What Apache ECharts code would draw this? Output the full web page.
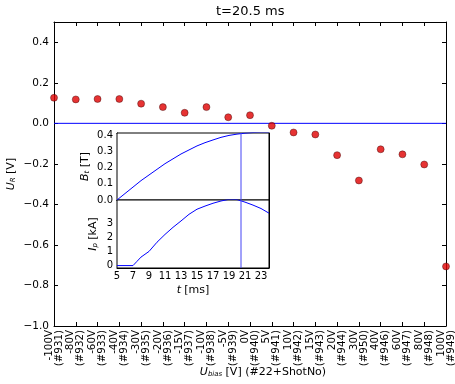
<!DOCTYPE html>
<html><head><meta charset="utf-8">
<script src="https://cdn.jsdelivr.net/npm/echarts@6/dist/echarts.min.js"></script>
<style>html,body{margin:0;padding:0;background:#fff}#c{width:455px;height:384px}</style>
</head><body><div id="c"></div>
<script>
// ---- data ----
const biasLabels = ['-100V','-80V','-60V','-40V','-30V','-20V','-15V','-10V','-5V','0V','5V','10V','15V','20V','30V','40V','60V','80V','100V'];
const shotLabels = ['#931','#932','#933','#934','#935','#936','#937','#938','#939','#940','#941','#942','#943','#944','#950','#946','#947','#948','#949'];
const URvalues = [0.126,0.118,0.120,0.120,0.097,0.080,0.052,0.080,0.030,0.040,-0.012,-0.045,-0.055,-0.157,-0.282,-0.128,-0.153,-0.203,-0.706];
const mainYTicks = [-1.0,-0.8,-0.6,-0.4,-0.2,0.0,0.2,0.4];
const tBt = [5,6,7,8,9,10,11,12,13,14,15,16,17,18,19,20,21,22,23,24];
const BtValues = [0,0.040,0.080,0.120,0.155,0.190,0.225,0.255,0.285,0.310,0.335,0.355,0.372,0.388,0.400,0.408,0.414,0.418,0.420,0.420];
const tIp = [5,6,7,7.5,8,8.5,9,10,11,12,13,14,15,16,17,18,19,20,21,22,23,24];
const IpValues = [0,0,0,0.30,0.60,0.80,1.00,1.65,2.20,2.70,3.15,3.62,3.98,4.20,4.40,4.56,4.68,4.66,4.48,4.27,4.03,3.70];
const insetXTicks = [5,7,9,11,13,15,17,19,21,23];
const BtTicks = [0,0.1,0.2,0.3,0.4];
const IpTickMarks = [0,1,2,3,4];
const IpTickLabels = [0,1,2,3];
const tMarker = 20.5;
const zeroLevel = 0;
const titleText = 't=20.5 ms';

// ---- chart ----
const FONT = 'DejaVu Sans';
const blue = '#0000ff';
const BT_RANGE = [0, 0.415];
const IP_RANGE = [-0.17, 4.63];
const minus = s => String(s).replace('-', '\u2212');
const xIdx = URvalues.map((v,i)=>[i,v]);
const chart = echarts.init(document.getElementById('c'), null, {renderer:'canvas'});
const subRich = {
  i:{fontFamily:FONT,fontStyle:'italic',fontSize:11,lineHeight:14,verticalAlign:'bottom',color:'#000'},
  s:{fontFamily:FONT,fontStyle:'italic',fontSize:7,lineHeight:9,verticalAlign:'bottom',color:'#000'},
  n:{fontFamily:FONT,fontSize:11,lineHeight:14,verticalAlign:'bottom',color:'#000'}
};
const lineAx = {show:true,onZero:false,lineStyle:{color:'#000',width:1}};
function tickIn(len){return {show:true,inside:true,length:len,lineStyle:{color:'#000',width:1}};}
const insetFont = {fontFamily:FONT,fontSize:10,color:'#000'};
const noEmph = {disabled:true};

const option = {
  animation:false,
  backgroundColor:'#fff',
  graphic:[{type:'text',left:216,top:5,style:{text:titleText,fontFamily:FONT,fontSize:13,fill:'#000'}}],
  grid:[
    {left:54,top:22,width:392,height:304,outerBoundsMode:'none',containLabel:false},
    {left:117,top:133,width:152,height:67,outerBoundsMode:'none',containLabel:false,show:true,backgroundColor:'#fff',borderColor:'#000',borderWidth:1,z:5},
    {left:117,top:200,width:152,height:68,outerBoundsMode:'none',containLabel:false,show:true,backgroundColor:'#fff',borderColor:'#000',borderWidth:1,z:5}
  ],
  xAxis:[
    {gridIndex:0,type:'value',min:0,max:18,interval:1,position:'bottom',
      axisLine:lineAx,axisTick:tickIn(4),splitLine:{show:false},
      axisLabel:{rotate:90,margin:4,hideOverlap:false,showMinLabel:true,showMaxLabel:true,fontFamily:FONT,fontSize:10.3,lineHeight:10,color:'#000',
        formatter:v=>{const i=Math.round(v);return (i>=0&&i<biasLabels.length)?biasLabels[i]+'\n('+shotLabels[i]+')':'';}},
      name:'{i|U}{s|bias} {n|[V] (#22+ShotNo)}',nameLocation:'middle',nameGap:38,nameMoveOverlap:false,
      nameTextStyle:{rich:subRich,padding:[0,0,0,26]}},
    {gridIndex:0,type:'value',min:0,max:18,interval:1,position:'top',
      axisLine:lineAx,axisTick:tickIn(4),axisLabel:{show:false},splitLine:{show:false}},
    {gridIndex:1,type:'value',min:5,max:24,position:'bottom',
      axisLine:lineAx,axisTick:Object.assign(tickIn(3),{customValues:insetXTicks}),
      axisLabel:{show:false},splitLine:{show:false}},
    {gridIndex:1,type:'value',min:5,max:24,position:'top',
      axisLine:lineAx,axisTick:Object.assign(tickIn(3),{customValues:insetXTicks}),
      axisLabel:{show:false},splitLine:{show:false}},
    {gridIndex:2,type:'value',min:5,max:24,position:'bottom',
      axisLine:lineAx,axisTick:Object.assign(tickIn(3),{customValues:insetXTicks}),
      axisLabel:Object.assign({margin:3,customValues:insetXTicks},insetFont),splitLine:{show:false},
      name:'{i|t} {n|[ms]}',nameLocation:'middle',nameGap:16,
      nameTextStyle:{rich:{i:{fontFamily:FONT,fontStyle:'italic',fontSize:11,color:'#000'},n:{fontFamily:FONT,fontSize:11,color:'#000'}}}},
    {gridIndex:2,type:'value',min:5,max:24,position:'top',
      axisLine:lineAx,axisTick:Object.assign(tickIn(3),{customValues:insetXTicks}),
      axisLabel:{show:false},splitLine:{show:false}}
  ],
  yAxis:[
    {gridIndex:0,type:'value',min:-1,max:0.5,position:'left',
      axisLine:lineAx,axisTick:Object.assign(tickIn(4),{customValues:mainYTicks}),splitLine:{show:false},
      axisLabel:{customValues:mainYTicks,margin:5,fontFamily:FONT,fontSize:10.5,color:'#000',formatter:v=>minus(v.toFixed(1))},
      name:'{i|U}{s|R} {n|[V]}',nameLocation:'middle',nameGap:37,nameMoveOverlap:false,nameTextStyle:{rich:subRich}},
    {gridIndex:0,type:'value',min:-1,max:0.5,position:'right',
      axisLine:lineAx,axisTick:Object.assign(tickIn(4),{customValues:mainYTicks}),axisLabel:{show:false},splitLine:{show:false}},
    {gridIndex:1,type:'value',min:BT_RANGE[0],max:BT_RANGE[1],position:'left',
      axisLine:lineAx,axisTick:Object.assign(tickIn(3),{customValues:BtTicks}),splitLine:{show:false},
      axisLabel:Object.assign({customValues:BtTicks,margin:4,formatter:v=>v.toFixed(1)},insetFont),
      name:'{i|B}{s|t} {n|[T]}',nameLocation:'middle',nameGap:26,nameTextStyle:{rich:subRich}},
    {gridIndex:1,type:'value',min:BT_RANGE[0],max:BT_RANGE[1],position:'right',
      axisLine:lineAx,axisTick:Object.assign(tickIn(3),{customValues:BtTicks}),axisLabel:{show:false},splitLine:{show:false}},
    {gridIndex:2,type:'value',min:IP_RANGE[0],max:IP_RANGE[1],position:'left',
      axisLine:lineAx,axisTick:Object.assign(tickIn(3),{customValues:IpTickMarks}),splitLine:{show:false},
      axisLabel:Object.assign({customValues:IpTickLabels,margin:4,formatter:v=>String(Math.round(v))},insetFont),
      name:'{i|I}{s|p} {n|[kA]}',nameLocation:'middle',nameGap:18,nameTextStyle:{rich:subRich}},
    {gridIndex:2,type:'value',min:IP_RANGE[0],max:IP_RANGE[1],position:'right',
      axisLine:lineAx,axisTick:Object.assign(tickIn(3),{customValues:IpTickMarks}),axisLabel:{show:false},splitLine:{show:false}}
  ],
  series:[
    {type:'line',xAxisIndex:0,yAxisIndex:0,data:[[0,zeroLevel],[URvalues.length-1,zeroLevel]],showSymbol:false,silent:true,z:3,
      lineStyle:{color:blue,width:1},emphasis:noEmph},
    {type:'scatter',xAxisIndex:0,yAxisIndex:0,data:xIdx,symbolSize:7,z:4,clip:false,
      itemStyle:{color:'#e00000',borderColor:'#300',borderWidth:0.5},emphasis:noEmph},
    {type:'line',xAxisIndex:2,yAxisIndex:2,data:tBt.map((t,i)=>[t,BtValues[i]]),showSymbol:false,clip:true,z:6,
      lineStyle:{color:blue,width:1},emphasis:noEmph},
    {type:'line',xAxisIndex:2,yAxisIndex:2,data:[[tMarker,BT_RANGE[0]],[tMarker,BT_RANGE[1]]],showSymbol:false,silent:true,z:6,
      lineStyle:{color:'#4545f5',width:1},emphasis:noEmph},
    {type:'line',xAxisIndex:4,yAxisIndex:4,data:tIp.map((t,i)=>[t,IpValues[i]]),showSymbol:false,clip:true,z:6,
      lineStyle:{color:blue,width:1},emphasis:noEmph},
    {type:'line',xAxisIndex:4,yAxisIndex:4,data:[[tMarker,IP_RANGE[0]],[tMarker,IP_RANGE[1]]],showSymbol:false,silent:true,z:6,
      lineStyle:{color:'#4545f5',width:1},emphasis:noEmph}
  ]
};
chart.setOption(option);
</script></body></html>
